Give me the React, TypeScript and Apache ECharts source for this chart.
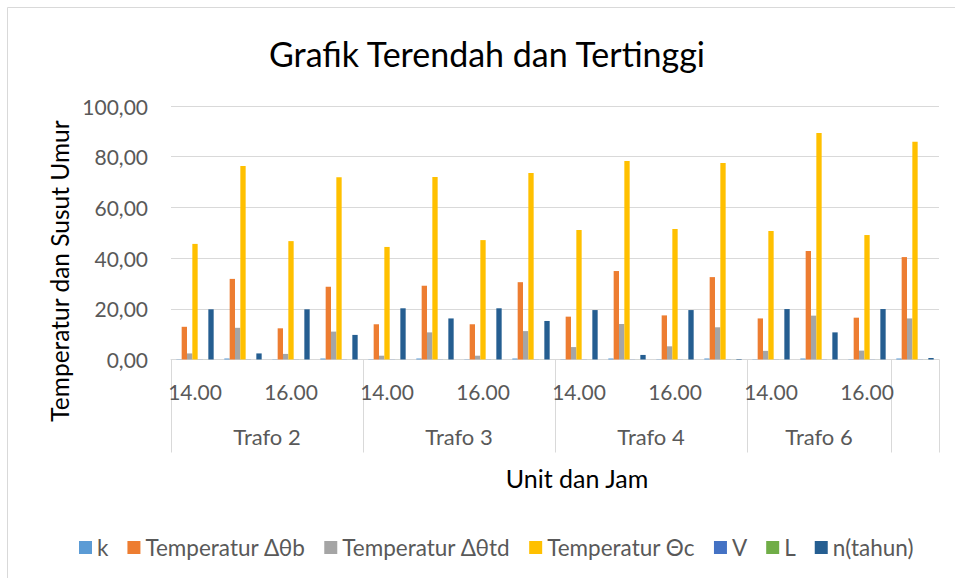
import React, { useEffect, useRef } from "react";
import * as echarts from "echarts";

const timeLabels = [
  "14.00", "15.00", "16.00", "17.00",
  "14.00", "15.00", "16.00", "17.00",
  "14.00", "15.00", "16.00", "17.00",
  "14.00", "15.00", "16.00", "17.00",
];
const unitNames = ["Trafo 2", "Trafo 3", "Trafo 4", "Trafo 6", ""];
const unitSpans = [4, 4, 4, 3, 1];

const seriesNames = [
  "k",
  "Temperatur Δθb",
  "Temperatur Δθtd",
  "Temperatur Θc",
  "V",
  "L",
  "n(tahun)",
];
const kValues = [0.1, 0.4, 0.1, 0.4, 0.1, 0.4, 0.1, 0.4, 0.1, 0.4, 0.1, 0.4, 0.1, 0.4, 0.1, 0.4];
const dThetaB = [12.9, 31.8, 12.3, 28.7, 13.9, 29.1, 13.9, 30.5, 16.9, 34.9, 17.4, 32.5, 16.2, 42.8, 16.5, 40.4];
const dThetaTd = [2.4, 12.5, 2.2, 11.0, 1.5, 10.7, 1.5, 11.2, 4.9, 14.0, 5.2, 12.7, 3.4, 17.3, 3.5, 16.2];
const thetaC = [45.6, 76.3, 46.7, 71.9, 44.4, 72.0, 47.1, 73.6, 51.1, 78.3, 51.5, 77.5, 50.7, 89.3, 49.1, 85.9];
const vValues = [0.05, 0.05, 0.05, 0.05, 0.05, 0.05, 0.05, 0.05, 0.05, 0.05, 0.05, 0.05, 0.05, 0.05, 0.05, 0.05];
const lValues = [0.02, 0.02, 0.02, 0.02, 0.02, 0.02, 0.02, 0.02, 0.02, 0.02, 0.02, 0.02, 0.02, 0.02, 0.02, 0.02];
const nValues = [19.8, 2.4, 19.8, 9.7, 20.2, 16.2, 20.2, 15.2, 19.5, 1.8, 19.5, 0.2, 19.9, 10.7, 19.9, 0.6];

const yTicks = { min: 0, max: 100, interval: 20 };

const colors = ["#5B9BD5", "#ED7D31", "#A5A5A5", "#FFC000", "#4472C4", "#70AD47", "#255E91"];
const FONT = "Lato, 'Open Sans', sans-serif";

export default function App() {
  const ref = useRef<HTMLDivElement>(null);
  useEffect(() => {
    if (!ref.current) return;
    const chart = echarts.init(ref.current, undefined, { renderer: "svg" });

    const halfCount = timeLabels.length * 2 + 1;
    const groupAxisData: string[] = new Array(halfCount).fill("");
    const boundarySet = new Set<number>([0]);
    const labelSet = new Set<number>();
    let pos = 0;
    unitSpans.forEach((span, i) => {
      const center = pos * 2 + span;
      groupAxisData[center] = unitNames[i];
      if (unitNames[i]) labelSet.add(center);
      pos += span;
      boundarySet.add(pos * 2);
    });

    const dataSets = [kValues, dThetaB, dThetaTd, thetaC, vValues, lValues, nValues];

    chart.setOption({
      animation: false,
      color: colors,
      textStyle: { fontFamily: FONT },
      title: [
        {
          text: "Grafik Terendah dan Tertinggi",
          left: 482,
          top: 31,
          textAlign: "center",
          textStyle: { fontSize: 34, fontWeight: "normal", color: "#000", fontFamily: FONT },
        },
        {
          text: "Unit dan Jam",
          left: 572,
          top: 460,
          textAlign: "center",
          textStyle: { fontSize: 25, fontWeight: "normal", color: "#000", fontFamily: FONT },
        },
      ],
      legend: {
        left: 74,
        top: 531,
        icon: "rect",
        itemWidth: 13,
        itemHeight: 13,
        itemGap: 19,
        textStyle: { fontSize: 22.5, color: "#595959", fontFamily: FONT },
        data: seriesNames,
      },
      grid: { left: 171, right: 16, top: 106, bottom: 218.5, containLabel: false },
      xAxis: [
        {
          type: "category",
          data: timeLabels,
          position: "bottom",
          axisLine: { show: true, lineStyle: { color: "#d9d9d9", width: 1 } },
          axisTick: { show: false },
          axisLabel: {
            interval: 1,
            fontSize: 21,
            color: "#595959",
            margin: 21,
            fontFamily: FONT,
          },
        },
        {
          type: "category",
          data: groupAxisData,
          boundaryGap: false,
          position: "bottom",
          axisLine: { show: false },
          axisTick: {
            show: true,
            length: 93,
            inside: false,
            interval: (idx: number) => boundarySet.has(idx),
            lineStyle: { color: "#d9d9d9", width: 1 },
          },
          axisLabel: {
            interval: (idx: number) => labelSet.has(idx),
            fontSize: 22,
            color: "#595959",
            margin: 66,
            fontFamily: FONT,
          },
          splitLine: { show: false },
        },
      ],
      yAxis: {
        type: "value",
        min: yTicks.min,
        max: yTicks.max,
        interval: yTicks.interval,
        axisLine: { show: false },
        axisTick: { show: false },
        splitLine: { lineStyle: { color: "#d9d9d9", width: 1 } },
        axisLabel: {
          fontSize: 21,
          color: "#595959",
          margin: 23,
          fontFamily: FONT,
          formatter: (v: number) => v.toFixed(2).replace(".", ","),
        },
      },
      graphic: [
        {
          type: "rect",
          shape: { x: 7.5, y: 7.5, width: 960, height: 590 },
          style: { fill: "none", stroke: "#d9d9d9", lineWidth: 1 },
          silent: true,
        },
        {
          type: "text",
          x: 59,
          y: 271,
          rotation: Math.PI / 2,
          style: {
            text: "Temperatur dan Susut Umur",
            fontSize: 24.5,
            fontFamily: FONT,
            fill: "#000",
            align: "center",
            verticalAlign: "middle",
          },
        },
      ],
      series: seriesNames.map((name, i) => ({
        name,
        type: "bar",
        xAxisIndex: 0,
        data: dataSets[i],
        barGap: "0%",
        barCategoryGap: "22.2%",
      })),
    });
    return () => chart.dispose();
  }, []);
  return (
    <div
      ref={ref}
      style={{ position: "absolute", left: 0, top: 0, width: 955, height: 578, background: "#fff" }}
    />
  );
}
